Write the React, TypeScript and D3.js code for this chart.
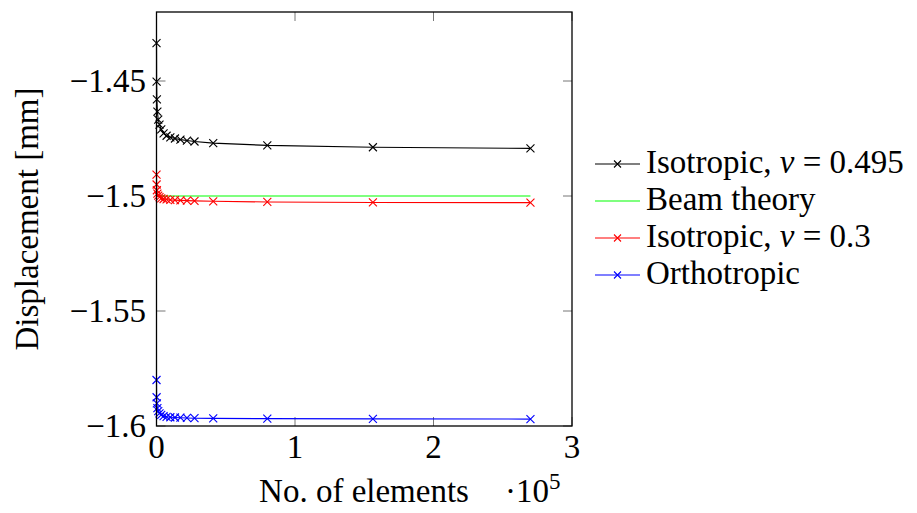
import React from "react";
import * as d3 from "d3";

// Mesh sizes (number of elements) used in the convergence study
const elements = [10, 80, 270, 640, 1250, 2160, 3430, 5120, 7290, 10000, 13310, 17280, 21970, 27440, 40960, 80000, 156250, 270000];

// Tip displacement [mm] for each mesh
const isoHigh = [-1.4335, -1.4503, -1.458, -1.4633, -1.4668, -1.469, -1.471, -1.4728, -1.4738, -1.4745, -1.475, -1.4755, -1.4759, -1.4763, -1.477, -1.478, -1.4788, -1.4793];
const isoLow = [-1.4907, -1.495, -1.4975, -1.499, -1.4998, -1.5005, -1.501, -1.5013, -1.5015, -1.5017, -1.5018, -1.5019, -1.502, -1.5021, -1.5023, -1.5026, -1.5028, -1.5029];
const ortho = [-1.58, -1.5875, -1.5902, -1.5922, -1.5935, -1.5945, -1.5952, -1.5957, -1.596, -1.5962, -1.5963, -1.5964, -1.5965, -1.5966, -1.5967, -1.5968, -1.5969, -1.597];

// Analytical reference value
const beamX = [0, 270000];
const beamY = [-1.5, -1.5];

const xTicks = [0, 100000, 200000, 300000];
const xTickLabels = ["0", "1", "2", "3"];
const yTicks = [-1.6, -1.55, -1.5, -1.45];
const yTickLabels = ["\u22121.6", "\u22121.55", "\u22121.5", "\u22121.45"];

const FONT = "'Liberation Serif', serif";
const FS = 33;

type Series = { name: string; color: string; xs: number[]; ys: number[]; marks: boolean; nu?: string };

const series: Series[] = [
  { name: "Isotropic, ", nu: "0.495", color: "#000000", xs: elements, ys: isoHigh, marks: true },
  { name: "Beam theory", color: "#00ff00", xs: beamX, ys: beamY, marks: false },
  { name: "Isotropic, ", nu: "0.3", color: "#ff0000", xs: elements, ys: isoLow, marks: true },
  { name: "Orthotropic", color: "#0000ff", xs: elements, ys: ortho, marks: true },
];

const L = 156.5, R = 572, T = 12, B = 426;

function Cross({ x, y, color, s = 4 }: { x: number; y: number; color: string; s?: number }) {
  return (
    <path
      d={`M${x - s},${y - s}L${x + s},${y + s}M${x - s},${y + s}L${x + s},${y - s}`}
      stroke={color}
      strokeWidth={1.1}
      fill="none"
    />
  );
}

export default function App() {
  const x = d3.scaleLinear().domain([0, 300000]).range([L, R]);
  const y = d3.scaleLinear().domain([-1.6, -1.42]).range([B, T]);
  const line = d3.line<[number, number]>().x((d) => x(d[0])).y((d) => y(d[1]));
  const tick = 9;
  const legendY = [164, 201, 238, 275];

  // Draw beam theory first so the FE curves sit on top
  const order = [1, 0, 2, 3];

  return (
    <svg
      width={917}
      height={513}
      style={{ position: "absolute", left: 0, top: 0, background: "#fff" }}
      fontFamily={FONT}
    >
      <rect x={0} y={0} width={917} height={513} fill="#fff" />
      {/* inner ticks */}
      {xTicks.map((t, i) => (
        <g key={"xt" + i} stroke="#777" strokeWidth={1}>
          <line x1={x(t)} x2={x(t)} y1={B} y2={B - tick} />
          <line x1={x(t)} x2={x(t)} y1={T} y2={T + tick} />
        </g>
      ))}
      {yTicks.map((t, i) => (
        <g key={"yt" + i} stroke="#777" strokeWidth={1}>
          <line x1={L} x2={L + tick} y1={y(t)} y2={y(t)} />
          <line x1={R} x2={R - tick} y1={y(t)} y2={y(t)} />
        </g>
      ))}
      {/* data */}
      {order.map((k) => {
        const s = series[k];
        const pts = s.xs.map((v, i) => [v, s.ys[i]] as [number, number]);
        return (
          <g key={"s" + k}>
            <path d={line(pts) || ""} stroke={s.color} strokeWidth={1.1} fill="none" />
            {s.marks && pts.map((p, i) => <Cross key={i} x={x(p[0])} y={y(p[1])} color={s.color} />)}
          </g>
        );
      })}
      {/* axis box */}
      <rect x={L} y={T} width={R - L} height={B - T} fill="none" stroke="#000" strokeWidth={1.3} />
      {/* tick labels */}
      {xTicks.map((t, i) => (
        <text key={"xl" + i} x={x(t)} y={458} fontSize={FS} textAnchor="middle" fill="#000">
          {xTickLabels[i]}
        </text>
      ))}
      {yTicks.map((t, i) => (
        <text key={"yl" + i} x={146} y={y(t) + 11} fontSize={FS} textAnchor="end" fill="#000">
          {yTickLabels[i]}
        </text>
      ))}
      {/* axis titles */}
      <text x={364} y={502} fontSize={FS} textAnchor="middle" fill="#000">
        No. of elements
      </text>
      <text x={505} y={502} fontSize={FS} fill="#000">
        ·10<tspan dy={-13} fontSize={23}>5</tspan>
      </text>
      <text
        transform={`translate(38,219) rotate(-90)`}
        fontSize={FS}
        textAnchor="middle"
        fill="#000"
      >
        Displacement [mm]
      </text>
      {/* legend */}
      {series.map((s, i) => (
        <g key={"lg" + i}>
          <line x1={595} x2={640} y1={legendY[i]} y2={legendY[i]} stroke={s.color} strokeWidth={1.1} />
          {s.marks && <Cross x={617.5} y={legendY[i]} color={s.color} s={3.5} />}
          <text x={646} y={legendY[i] + 8.5} fontSize={FS} fill="#000">
            {s.name}
            {s.nu && (
              <>
                <tspan fontStyle="italic">ν</tspan>
                {" = " + s.nu}
              </>
            )}
          </text>
        </g>
      ))}
    </svg>
  );
}
